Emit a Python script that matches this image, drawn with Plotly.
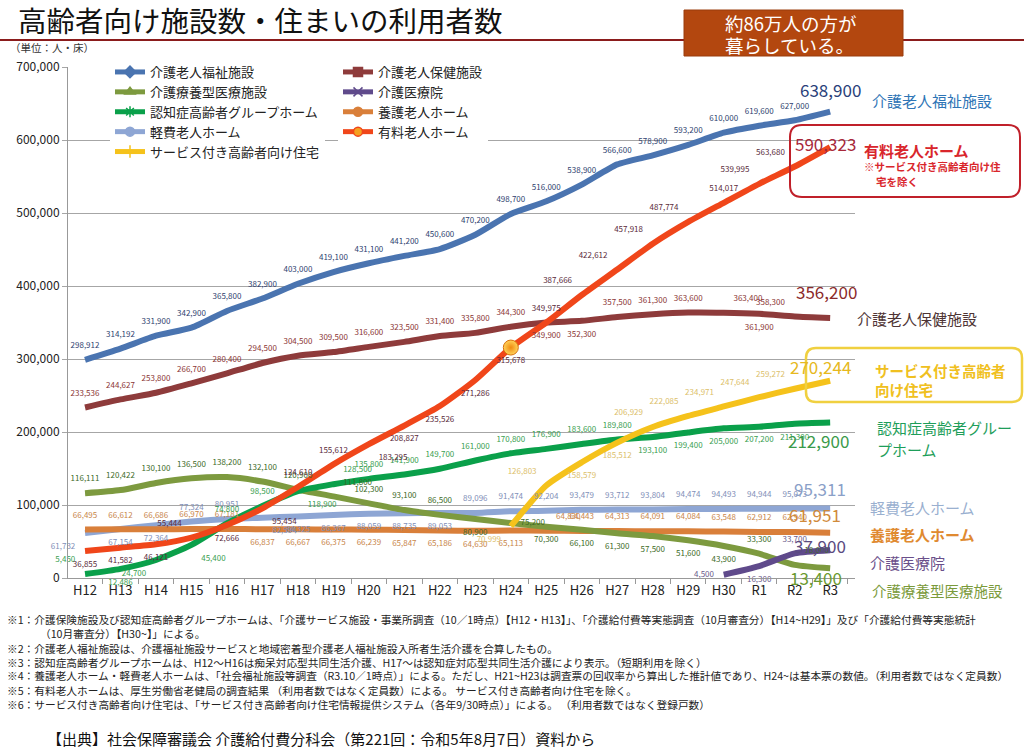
import plotly.graph_objects as go

years = ["H12", "H13", "H14", "H15", "H16", "H17", "H18", "H19", "H20", "H21", "H22",
         "H23", "H24", "H25", "H26", "H27", "H28", "H29", "H30", "R1", "R2", "R3"]

fukushi = [298912, 314192, 331900, 342900, 365800, 382900, 403000, 419100, 431100, 441200, 450600,
           470200, 498700, 516000, 538900, 566600, 578900, 593200, 610000, 619600, 627000, 638900]
hoken = [233536, 244627, 253800, 266700, 280400, 294500, 304500, 309500, 316600, 323500, 331400,
         335800, 344300, 349900, 352300, 357500, 361300, 363600, 363400, 361900, 358300, 356200]
ryoyo = [116111, 120422, 130100, 136500, 138200, 132100, 120900, 111800, 102300, 93100, 86500,
         80900, 75200, 70300, 66100, 61300, 57500, 51600, 43900, 33300, 18000, 13400]
iryoin = [None] * 18 + [4500, 16300, 33700, 37900]
gh = [5450, 12486, 24700, 45400, 74800, 98500, 118900, 128500, 135800, 141900, 149700,
      161000, 170800, 176900, 183600, 189800, 193100, 199400, 205000, 207200, 211300, 212900]
yogo = [66495, 66612, 66686, 66970, 67181, 66837, 66667, 66375, 66239, 65847, 65186,
        64630, 65113, 64830, 64443, 64313, 64091, 64084, 63548, 62912, 62940, 61951]
keihi = [61732, 67154, 72364, 77324, 80951, 82594, 84325, 86367, 88059, 88735, 89053,
         89096, 91474, 92204, 93479, 93712, 93804, 94474, 94493, 94944, 95073, 95311]
yuryo = [36855, 41582, 46121, 55444, 72666, 95454, 124610, 155612, 183295, 208827, 235526,
         271286, 315678, 349975, 387666, 422612, 457918, 487774, 514017, 539995, 563680, 590323]
sakoju = [None] * 12 + [70999, 126803, 158579, 185512, 206929, 222085, 234971, 247644, 259272, 270244]

names = {
    "fukushi": "介護老人福祉施設",
    "hoken": "介護老人保健施設",
    "ryoyo": "介護療養型医療施設",
    "iryoin": "介護医療院",
    "gh": "認知症高齢者グループホーム",
    "yogo": "養護老人ホーム",
    "keihi": "軽費老人ホーム",
    "yuryo": "有料老人ホーム",
    "sakoju": "サービス付き高齢者向け住宅",
}

FONT = "Noto Sans CJK JP"
TC, TL, TR = "top center", "top left", "top right"
BC, BL, BR = "bottom center", "bottom left", "bottom right"
ML, MR = "middle left", "middle right"

series = {
    "fukushi": dict(v=fukushi, lc="#4a74b0", tc="#2f3f6f", sym="diamond", pos=[TC] * 22),
    "hoken": dict(v=hoken, lc="#8e3b3b", tc="#8b3535", sym="square",
                  pos=[TC] * 13 + [BC, BC] + [TC, TC, TC] + [TR, BC, TL, TC]),
    "ryoyo": dict(v=ryoyo, lc="#7d9a3f", tc="#3d6b28", sym="triangle-up",
                  pos=[TC] * 7 + [TR, TC, TC, TC, BC, MR] + [BC] * 6 + [TC, TR, TC]),
    "iryoin": dict(v=iryoin, lc="#5f4a8b", tc="#6a5a8a", sym="x-thin-open",
                   pos=[TC] * 18 + [ML, BC, TC, TC]),
    "gh": dict(v=gh, lc="#0aa04a", tc="#3aa050", sym="asterisk-open",
               pos=[TL, BC, BL, BR, TC, TC, BR, TR] + [TC] * 8 + [BC] * 5 + [TC]),
    "yogo": dict(v=yogo, lc="#d97f3a", tc="#c8864a", sym="circle",
                 pos=[TC] * 5 + [BC] * 8 + [TR] + [TC] * 8),
    "keihi": dict(v=keihi, lc="#8ea6d4", tc="#7f8fb8", sym="circle",
                  pos=[BL, BC, BC, TC, TC, BR, BC, BC, BC, BC, BC] + [TC] * 11),
    "yuryo": dict(v=yuryo, lc="#f0461a", tc="#5a2a3a", sym="circle",
                  pos=[BC, BC, BC, TL, BC, BR, TC, TC, BR, BC, BC, BC, BC, TC,
                       TL, TL, TL, TL, TC, TL, TL, TC]),
    "sakoju": dict(v=sakoju, lc="#f5c21b", tc="#dcc06a", sym="cross-thin-open",
                   pos=[TC] * 12 + [BL, TL, BC, BC, TL, TL, TL, TL, TL, TC]),
}

# big end labels: key -> (color, xshift, yshift)
end_labels = {
    "fukushi": ("#2a3f7a", 0, 22),
    "yuryo": ("#a8283a", -5, 4),
    "hoken": ("#8b2a2a", -4, 26),
    "sakoju": ("#e6b820", -10, 14),
    "gh": ("#3a9a4a", -12, -18),
    "keihi": ("#8aa0c8", -10, 20),
    "yogo": ("#d08a3a", -15, 18),
    "iryoin": ("#5a4a80", -10, 5),
    "ryoyo": ("#6a9a30", -14, -9),
}

fig = go.Figure()

draw_order = ["keihi", "yogo", "ryoyo", "iryoin", "gh", "sakoju", "hoken", "fukushi", "yuryo"]
for k in draw_order:
    s = series[k]
    fig.add_trace(go.Scatter(x=years, y=s["v"], mode="lines", name=names[k],
                             line=dict(color=s["lc"], width=6, shape="spline", smoothing=0.6),
                             showlegend=False, hoverinfo="skip", connectgaps=False))

# highlight marker on 有料老人ホーム at H24
fig.add_trace(go.Scatter(x=[years[12]], y=[yuryo[12]], mode="markers", showlegend=False,
                         hoverinfo="skip",
                         marker=dict(size=15, color="#ffd35a",
                                     gradient=dict(type="radial", color="#f08a10"),
                                     line=dict(color="#d8700c", width=1))))

# data labels
for k in draw_order:
    s = series[k]
    txt = [("" if (v is None or i == len(years) - 1) else f"{v:,}") for i, v in enumerate(s["v"])]
    fig.add_trace(go.Scatter(x=years, y=s["v"], mode="markers+text", text=txt,
                             textposition=s["pos"], showlegend=False, hoverinfo="skip",
                             marker=dict(size=14, opacity=0),
                             textfont=dict(family=FONT, size=8, color=s["tc"]),
                             cliponaxis=False))

# legend entries
leg1 = ["fukushi", "ryoyo", "gh", "keihi", "sakoju"]
leg2 = ["hoken", "iryoin", "yogo", "yuryo"]
for grp, keys in (("legend", leg1), ("legend2", leg2)):
    for k in keys:
        s = series[k]
        mcol = "#f5a020" if k == "yuryo" else s["lc"]
        fig.add_trace(go.Scatter(x=[None], y=[None], mode="lines+markers", name=names[k],
                                 legend=grp,
                                 line=dict(color=s["lc"], width=5),
                                 marker=dict(symbol=s["sym"], size=9, color=mcol,
                                             line=dict(color=s["lc"], width=1.5))))

# geometry helpers (pixel -> paper)
L, R, T, B = 68, 855, 67, 578
def px(x):
    return (x - L) / (R - L)
def py(y):
    return (B - y) / (B - T)

annotations = []
for k, (col, xs, ys) in end_labels.items():
    v = series[k]["v"][-1]
    annotations.append(dict(x=years[-1], y=v, xref="x", yref="y", text=f"{v:,}",
                            showarrow=False, xshift=xs, yshift=ys,
                            font=dict(family=FONT, size=17, color=col)))

def note(x, y, text, size, color, bold=False, anchor="left"):
    if bold:
        text = f"<b>{text}</b>"
    annotations.append(dict(x=px(x), y=py(y), xref="paper", yref="paper", text=text,
                            showarrow=False, xanchor=anchor, yanchor="middle",
                            font=dict(family=FONT, size=size, color=color)))

# right-side series names
note(870, 100, "介護老人福祉施設", 15, "#2e75b6")
note(862, 150, "有料老人ホーム", 15, "#d9262c", bold=True)
note(862, 166, "※サービス付き高齢者向け住", 10.5, "#d9262c", bold=True)
note(874, 181, "宅を除く", 10.5, "#d9262c", bold=True)
note(855, 318, "介護老人保健施設", 15, "#4e3434")
note(873, 370, "サービス付き高齢者", 14.5, "#f0c020", bold=True)
note(873, 389, "向け住宅", 14.5, "#f0c020", bold=True)
note(875, 427, "認知症高齢者グルー", 15, "#1e9e5a")
note(875, 449, "プホーム", 15, "#1e9e5a")
note(868, 507, "軽費老人ホーム", 15, "#9ab0d0")
note(868, 534, "養護老人ホーム", 15, "#e08a30", bold=True)
note(868, 562, "介護医療院", 15, "#6a4f8a")
note(870, 590, "介護療養型医療施設", 14.5, "#7a9a3a")

# header
note(16, 19, "高齢者向け施設数・住まいの利用者数", 28.5, "#111111")
note(8, 48, "（単位：人・床）", 10.5, "#333333")
note(723, 23, "約86万人の方が", 18.5, "#ffffff")
note(723, 45, "暮らしている。", 18.5, "#ffffff")

# footnotes
foot = [
    (5, 619, "※1：介護保険施設及び認知症高齢者グループホームは、「介護サービス施設・事業所調査（10／1時点）【H12・H13】」、「介護給付費等実態調査（10月審査分）【H14~H29】」及び「介護給付費等実態統計"),
    (38, 633, "（10月審査分）【H30~】」による。"),
    (5, 648, "※2：介護老人福祉施設は、介護福祉施設サービスと地域密着型介護老人福祉施設入所者生活介護を合算したもの。"),
    (5, 662, "※3：認知症高齢者グループホームは、H12～H16は痴呆対応型共同生活介護、H17～は認知症対応型共同生活介護により表示。（短期利用を除く）"),
    (5, 676, "※4：養護老人ホーム・軽費老人ホームは、「社会福祉施設等調査（R3.10／1時点）」による。ただし、H21~H23は調査票の回収率から算出した推計値であり、H24~は基本票の数値。（利用者数ではなく定員数）"),
    (5, 690, "※5：有料老人ホームは、厚生労働省老健局の調査結果 （利用者数ではなく定員数）による。 サービス付き高齢者向け住宅を除く。"),
    (5, 704, "※6：サービス付き高齢者向け住宅は、「サービス付き高齢者向け住宅情報提供システム（各年9/30時点）」による。 （利用者数ではなく登録戸数）"),
]
for x, y, t in foot:
    note(x, y, t, 10.7, "#222222")
note(45, 738, "【出典】社会保障審議会 介護給付費分科会（第221回：令和5年8月7日）資料から", 15, "#111111")

def rrect(x0, y0, x1, y1, r):
    def P(x, y):
        return f"{px(x):.5f},{py(y):.5f}"
    return (f"M {P(x0 + r, y0)} L {P(x1 - r, y0)} Q {P(x1, y0)} {P(x1, y0 + r)} "
            f"L {P(x1, y1 - r)} Q {P(x1, y1)} {P(x1 - r, y1)} L {P(x0 + r, y1)} "
            f"Q {P(x0, y1)} {P(x0, y1 - r)} L {P(x0, y0 + r)} Q {P(x0, y0)} {P(x0 + r, y0)} Z")

shapes = [
    dict(type="line", xref="paper", yref="paper", x0=px(0), x1=px(1024), y0=py(40), y1=py(40),
         line=dict(color="#8b1c1c", width=2)),
    dict(type="rect", xref="paper", yref="paper", x0=px(684), x1=px(903), y0=py(10), y1=py(56),
         fillcolor="#b3470f", line=dict(color="#9a3c0c", width=1)),
    dict(type="path", xref="paper", yref="paper", path=rrect(790, 125, 1020, 197, 12),
         line=dict(color="#c0202a", width=2)),
    dict(type="path", xref="paper", yref="paper", path=rrect(806, 348, 1022, 402, 10),
         line=dict(color="#f0d040", width=2.5)),
]

fig.update_layout(
    width=1024, height=749,
    margin=dict(l=L, r=1024 - R, t=T, b=749 - B),
    paper_bgcolor="white", plot_bgcolor="white",
    font=dict(family=FONT, color="#222222"),
    xaxis=dict(type="category", categoryorder="array", categoryarray=years,
               range=[-0.48, 21.7], showgrid=False, showline=True, linecolor="#999999",
               ticks="outside", tickson="boundaries", ticklen=5, tickcolor="#999999",
               tickfont=dict(family=FONT, size=13, color="#222222")),
    yaxis=dict(range=[0, 700000], dtick=100000, tickformat=",", showgrid=True,
               gridcolor="#a6a6a6", gridwidth=1, showline=True, linecolor="#999999",
               ticks="outside", ticklen=5, tickcolor="#a6a6a6", zeroline=False,
               tickfont=dict(family=FONT, size=12, color="#222222")),
    legend=dict(x=px(110), y=py(57), xanchor="left", yanchor="top", bgcolor="white",
                font=dict(family=FONT, size=13, color="#222222"), tracegroupgap=0,
                itemwidth=30),
    legend2=dict(x=px(338), y=py(57), xanchor="left", yanchor="top", bgcolor="white",
                 font=dict(family=FONT, size=13, color="#222222"), tracegroupgap=0,
                 itemwidth=30),
    annotations=annotations,
    shapes=shapes,
)

fig.write_html("out.html", config={"displayModeBar": False},
               post_script="document.body.style.margin='0';document.body.style.overflow='hidden';")
